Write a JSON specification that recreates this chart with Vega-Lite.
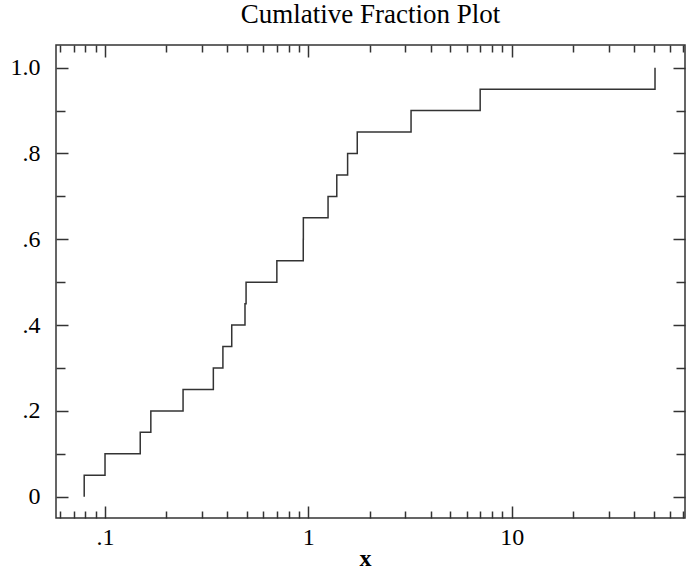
{
  "$schema": "https://vega.github.io/schema/vega-lite/v6.json",
  "width": 629,
  "height": 473,
  "autosize": {"type": "none"},
  "padding": {"left": 56, "top": 45, "right": 1, "bottom": 52},
  "background": "white",
  "title": {"text": "Cumlative Fraction Plot", "font": "Liberation Serif", "fontSize": 27, "fontWeight": "normal", "color": "black", "anchor": "middle", "baseline": "alphabetic", "offset": 18, "dy": 24},
  "data": {"values": [
    {"x": 0.079, "F": 0.0},
    {"x": 0.079, "F": 0.05},
    {"x": 0.100, "F": 0.10},
    {"x": 0.149, "F": 0.15},
    {"x": 0.168, "F": 0.20},
    {"x": 0.242, "F": 0.25},
    {"x": 0.341, "F": 0.30},
    {"x": 0.380, "F": 0.35},
    {"x": 0.420, "F": 0.40},
    {"x": 0.488, "F": 0.45},
    {"x": 0.494, "F": 0.50},
    {"x": 0.700, "F": 0.55},
    {"x": 0.944, "F": 0.60},
    {"x": 0.945, "F": 0.65},
    {"x": 1.25, "F": 0.70},
    {"x": 1.38, "F": 0.75},
    {"x": 1.56, "F": 0.80},
    {"x": 1.74, "F": 0.85},
    {"x": 3.2, "F": 0.90},
    {"x": 7.0, "F": 0.95},
    {"x": 50.7, "F": 1.00}
  ]},
  "config": {
    "view": {"stroke": "#333", "strokeWidth": 1.5},
    "axis": {"domain": false, "grid": false, "tickColor": "#333", "tickWidth": 1.5, "labelFont": "Liberation Serif", "labelFontSize": 24, "labelColor": "black", "titleFont": "Liberation Serif", "titleFontSize": 24, "titleFontWeight": "bold", "titleColor": "black", "labelFlush": false, "labelOverlap": false}
  },
  "resolve": {"axis": {"x": "independent", "y": "independent"}},
  "layer": [
    {
      "mark": {"type": "line", "interpolate": "step-after", "color": "#333", "strokeWidth": 1.5, "clip": true},
      "encoding": {
        "x": {"field": "x", "type": "quantitative", "scale": {"type": "log", "domain": [0.0574, 71.2], "nice": false},
          "axis": {"orient": "bottom", "values": [0.1, 1, 10], "tickSize": 12, "offset": -12, "labelPadding": 7,
            "labelExpr": "datum.value < 0.5 ? '.1' : datum.value < 5 ? '1' : '10'",
            "title": "x", "titleX": 309, "titleY": 59, "titleBaseline": "alphabetic", "titleAlign": "center"}},
        "y": {"field": "F", "type": "quantitative", "scale": {"domain": [-0.0497, 1.0529], "nice": false, "zero": false},
          "axis": {"orient": "left", "values": [0, 0.2, 0.4, 0.6, 0.8, 1], "tickSize": 12, "offset": -12, "labelPadding": 16,
            "labelExpr": "datum.value == 0 ? '0' : datum.value > 0.99 ? '1.0' : replace(format(datum.value, '.1f'), '0.', '.')",
            "title": null}},
        "order": {"field": "F", "type": "quantitative"}
      }
    },
    {
      "mark": {"type": "line", "strokeOpacity": 0},
      "encoding": {
        "x": {"field": "x", "type": "quantitative", "scale": {"type": "log", "domain": [0.0574, 71.2], "nice": false},
          "axis": {"orient": "top", "values": [0.1, 1, 10], "tickSize": 12, "offset": -12, "labels": false, "title": null}},
        "y": {"field": "F", "type": "quantitative", "scale": {"domain": [-0.0497, 1.0529], "nice": false, "zero": false},
          "axis": {"orient": "right", "values": [0, 0.2, 0.4, 0.6, 0.8, 1], "tickSize": 12, "offset": -12, "labels": false, "title": null}}
      }
    },
    {
      "mark": {"type": "line", "strokeOpacity": 0},
      "encoding": {
        "x": {"field": "x", "type": "quantitative", "scale": {"type": "log", "domain": [0.0574, 71.2], "nice": false},
          "axis": {"orient": "bottom", "values": [0.06, 0.07, 0.08, 0.09, 0.2, 0.3, 0.4, 0.5, 0.6, 0.7, 0.8, 0.9, 2, 3, 4, 5, 6, 7, 8, 9, 20, 30, 40, 50, 60, 70], "tickSize": 7, "offset": -7, "labels": false, "title": null}},
        "y": {"field": "F", "type": "quantitative", "scale": {"domain": [-0.0497, 1.0529], "nice": false, "zero": false},
          "axis": {"orient": "left", "values": [0.1, 0.3, 0.5, 0.7, 0.9], "tickSize": 9, "offset": -9, "labels": false, "title": null}}
      }
    },
    {
      "mark": {"type": "line", "strokeOpacity": 0},
      "encoding": {
        "x": {"field": "x", "type": "quantitative", "scale": {"type": "log", "domain": [0.0574, 71.2], "nice": false},
          "axis": {"orient": "top", "values": [0.06, 0.07, 0.08, 0.09, 0.2, 0.3, 0.4, 0.5, 0.6, 0.7, 0.8, 0.9, 2, 3, 4, 5, 6, 7, 8, 9, 20, 30, 40, 50, 60, 70], "tickSize": 7, "offset": -7, "labels": false, "title": null}},
        "y": {"field": "F", "type": "quantitative", "scale": {"domain": [-0.0497, 1.0529], "nice": false, "zero": false},
          "axis": {"orient": "right", "values": [0.1, 0.3, 0.5, 0.7, 0.9], "tickSize": 9, "offset": -9, "labels": false, "title": null}}
      }
    }
  ]
}
